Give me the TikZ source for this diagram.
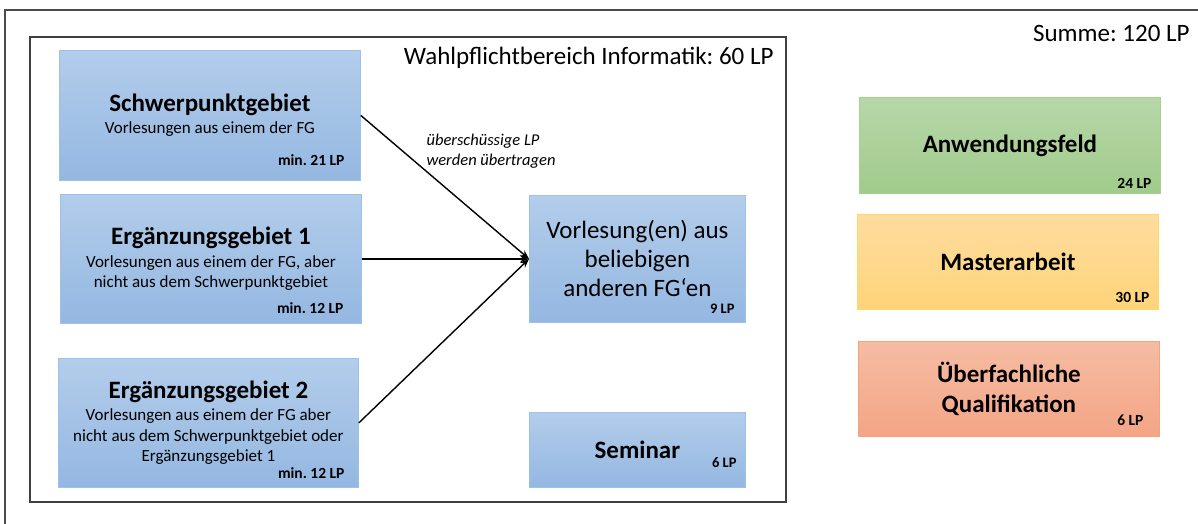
\documentclass[tikz,border=0pt]{standalone}
\usepackage{fontspec}
\setmainfont{Carlito}
\frenchspacing
\usetikzlibrary{arrows.meta}
\definecolor{blauoben}{HTML}{B3CDEB}
\definecolor{blauunten}{HTML}{94B7E1}
\definecolor{blaurand}{HTML}{9EC1E8}
\definecolor{gruenoben}{HTML}{B7D7A9}
\definecolor{gruenunten}{HTML}{A0CB8B}
\definecolor{gruenrand}{HTML}{A6D08F}
\definecolor{gelboben}{HTML}{FEDCA0}
\definecolor{gelbunten}{HTML}{FED479}
\definecolor{gelbrand}{HTML}{FDD96A}
\definecolor{rotoben}{HTML}{F5BCA3}
\definecolor{rotunten}{HTML}{F4A586}
\definecolor{rotrand}{HTML}{F2A47C}
\newcommand{\feldtitel}[1]{{\fontsize{25}{28}\selectfont\bfseries #1}}
\newcommand{\lp}[1]{{\fontsize{15.5}{17}\selectfont\bfseries #1}}
\begin{document}
\begin{tikzpicture}[x=1pt, y=-1pt,
    feld/.style={anchor=north west, inner sep=0pt, align=center, line width=0.8pt,
        font=\fontsize{17}{20.5}\selectfont},
    blau/.style={feld, top color=blauoben, bottom color=blauunten, draw=blaurand},
    gruen/.style={feld, top color=gruenoben, bottom color=gruenunten, draw=gruenrand},
    gelb/.style={feld, top color=gelboben, bottom color=gelbunten, draw=gelbrand},
    rot/.style={feld, top color=rotoben, bottom color=rotunten, draw=rotrand},
    pfeil/.style={-{Stealth[length=9pt, width=7pt]}, line width=1.4pt}]
    \useasboundingbox (0,0) rectangle (1198,524);
    %Rahmen
    \draw[line width=1.3pt, black!70] (5,524) -- (5,10) -- (1198,10);
    \node[anchor=east, font=\fontsize{25}{28}\selectfont] (summe) at (1193,33) {Summe: 120 LP};
    \draw[line width=1.6pt, black!75] (30,37) rectangle (786,502);
    \node[anchor=east, font=\fontsize{25}{28}\selectfont] (wpb) at (777,58) {Wahlpflichtbereich Informatik: 60 LP};
    %Wahlpflichtbereich
    \node[blau, minimum width=301pt, minimum height=130pt] (sp) at (59,50)
        {\feldtitel{Schwerpunktgebiet}\\[2pt] Vorlesungen aus einem der FG};
    \node[anchor=east] (splp) at (348,160) {\lp{min. 21 LP}};
    \node[blau, minimum width=301pt, minimum height=129pt] (eg1) at (60,194)
        {\feldtitel{Ergänzungsgebiet 1}\\[2pt] Vorlesungen aus einem der FG, aber\\ nicht aus dem Schwerpunktgebiet};
    \node[anchor=east] (eg1lp) at (347,308) {\lp{min. 12 LP}};
    \node[blau, minimum width=300pt, minimum height=129pt] (eg2) at (58,358)
        {\feldtitel{Ergänzungsgebiet 2}\\[2pt] Vorlesungen aus einem der FG aber\\ nicht aus dem Schwerpunktgebiet oder\\ Ergänzungsgebiet 1};
    \node[anchor=east] (eg2lp) at (348,473) {\lp{min. 12 LP}};
    \node[blau, minimum width=216pt, minimum height=127pt, font=\fontsize{25}{29}\selectfont] (vl) at (529,195)
        {Vorlesung(en) aus\\ beliebigen\\ anderen FG‘en};
    \node[anchor=east] (vllp) at (738,309) {{\fontsize{14.5}{16}\selectfont\bfseries 9 LP}};
    \node[blau, minimum width=216pt, minimum height=75pt] (sem) at (529,412) {\feldtitel{Seminar}};
    \node[anchor=east] (semlp) at (740,463) {{\fontsize{14.5}{16}\selectfont\bfseries 6 LP}};
    %Pfeile
    \draw[pfeil] (sp.east) -- (vl.west);
    \draw[pfeil] (eg1.east) -- (vl.west);
    \draw[pfeil] (eg2.east) -- (vl.west);
    \node[anchor=west, align=left, font=\fontsize{16.5}{20}\selectfont\itshape] (uebertrag) at (423,151)
        {überschüssige LP\\ werden übertragen};
    %weitere Bereiche
    \node[gruen, minimum width=301pt, minimum height=96pt] (anw) at (859,97) {\feldtitel{Anwendungsfeld}};
    \node[anchor=east] (anwlp) at (1155,183) {\lp{24 LP}};
    \node[gelb, minimum width=301pt, minimum height=95pt] (ma) at (857,214) {\feldtitel{Masterarbeit}};
    \node[anchor=east] (malp) at (1153,297) {\lp{30 LP}};
    \node[rot, minimum width=301pt, minimum height=95pt, font=\fontsize{25}{30}\selectfont\bfseries] (ue) at (858,341)
        {Überfachliche\\ Qualifikation};
    \node[anchor=east] (uelp) at (1147,420) {\lp{6 LP}};
\end{tikzpicture}
\end{document}
